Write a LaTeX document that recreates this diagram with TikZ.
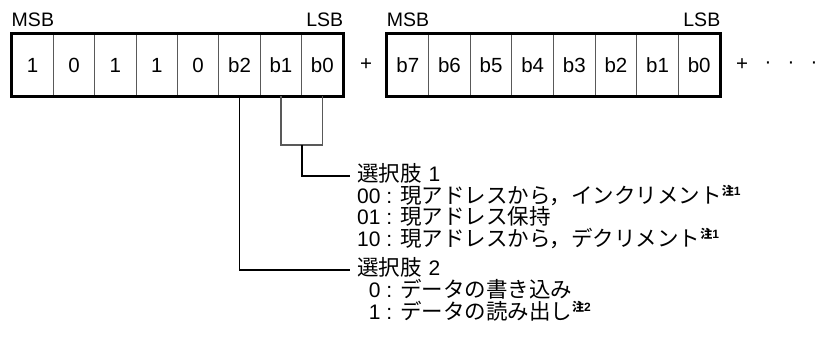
\documentclass[tikz,border=0pt]{standalone}
\usepackage{fontspec}
\setmainfont{Liberation Sans}
\newfontfamily\jp{Noto Sans CJK JP}
\newcommand\J[1]{{\jp\fontsize{21.5}{22}\selectfont #1}}
\newcommand\Note[1]{\raisebox{8pt}{\fontsize{12}{12}\selectfont\bfseries{\jp 注}#1}}
\begin{document}
\begin{tikzpicture}[x=1pt,y=-1pt,
  lat/.style={font=\fontsize{20.5}{22}\selectfont},
  lab/.style={font=\fontsize{19.5}{22}\selectfont},
  cell/.style={draw=gray!70!black, line width=0.9pt, minimum height=62pt, inner sep=0pt, lat},
  txt/.style={anchor=west, inner sep=0pt, text height=15pt, text depth=4pt, font=\fontsize{21}{22}\selectfont},
  conn/.style={line width=1.2pt},
  outer/.style={line width=2.6pt}
]
\useasboundingbox (0,0) rectangle (818,360);
\foreach \t [count=\i from 0] in {1,0,1,1,0,b2,b1,b0}
  \node[cell, minimum width=41.375pt] (a\i) at ({12+41.375*(\i+0.5)},65) {\t};
\draw[outer] (a0.north west) rectangle (a7.south east);
\foreach \t [count=\i from 0] in {b7,b6,b5,b4,b3,b2,b1,b0}
  \node[cell, minimum width=41.625pt] (c\i) at ({387+41.625*(\i+0.5)},65) {\t};
\draw[outer] (c0.north west) rectangle (c7.south east);

\node[lab, anchor=base west, inner sep=0pt] (m1) at ([yshift=7pt]a0.north west) {MSB};
\node[lab, anchor=base east, inner sep=0pt] (l1s) at ([yshift=7pt]a7.north east) {LSB};
\node[lab, anchor=base west, inner sep=0pt] (m2) at ([yshift=7pt]c0.north west) {MSB};
\node[lab, anchor=base east, inner sep=0pt] (l2s) at ([yshift=7pt]c7.north east) {LSB};

\node[lat] (p1) at (366,65) {+};
\node[lat] (p2) at (742,65) {+};
\node[lat] (d1) at (768,65) {·};
\node[lat] (d2) at (791,65) {·};
\node[lat] (d3) at (814,65) {·};

\node[txt] (s1) at (357,176) {\J{選択肢}\hspace{7pt}1};
\node[txt] (t00) at (357,197.5) {00 : \J{現アドレスから，インクリメント}\Note1};
\node[txt] (t01) at (357,219) {01 : \J{現アドレス保持}};
\node[txt] (t10) at (357,240.5) {10 : \J{現アドレスから，デクリメント}\Note1};
\node[txt] (s2) at (357,270) {\J{選択肢}\hspace{7pt}2};
\node[txt] (t0) at (357,292) {\phantom{0}0 : \J{データの書き込み}};
\node[txt] (t1) at (357,313.5) {\phantom{0}1 : \J{データの読み出し}\Note2};

\coordinate (k) at (302,145);
\draw[conn, gray!70!black] (a6.south) |- (k) -| (a7.south);
\draw[conn] (k) |- ([xshift=-7pt]s1.west);
\draw[conn] (a5.south) |- ([xshift=-7pt]s2.west);
\end{tikzpicture}
\end{document}
